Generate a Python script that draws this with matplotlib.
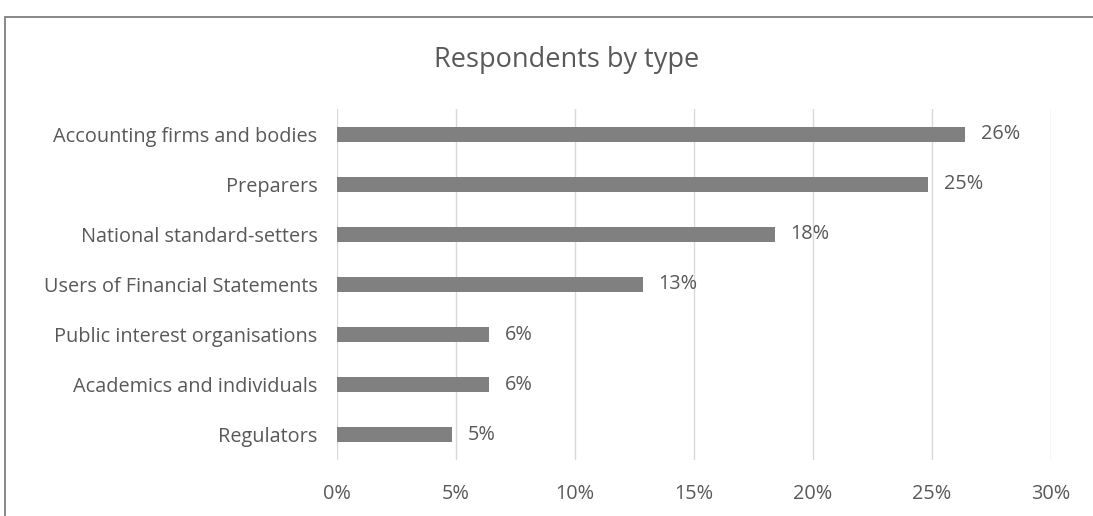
import matplotlib.pyplot as plt
from matplotlib.patches import Rectangle
from matplotlib.ticker import FuncFormatter

categories = ['Accounting firms and bodies', 'Preparers', 'National standard-setters',
              'Users of Financial Statements', 'Public interest organisations',
              'Academics and individuals', 'Regulators']
values = [26.4, 24.85, 18.4, 12.85, 6.4, 6.4, 4.85]
labels = ['26%', '25%', '18%', '13%', '6%', '6%', '5%']
xticks = [0, 5, 10, 15, 20, 25, 30]

plt.rcParams['font.family'] = ['Open Sans', 'DejaVu Sans']
txt = '#595959'
fs = 14.3

fig = plt.figure(figsize=(10.93, 5.16), dpi=100)
ax = fig.add_axes([0.3083, 0.1085, 0.6533, 0.6803])

y = list(range(len(categories)))
ax.barh(y, values, height=0.3, color='#808080', zorder=3)
for yi, v, lab in zip(y, values, labels):
    ax.text(v + 0.65, yi, lab, va='center', ha='left', fontsize=fs, color=txt)

ax.set_yticks(y)
ax.set_yticklabels(categories)
ax.set_ylim(len(categories) - 0.5, -0.5)
ax.set_xlim(0, 30)
ax.set_xticks(xticks)
ax.xaxis.set_major_formatter(FuncFormatter(lambda v, p: f'{v:.0f}%'))
ax.tick_params(axis='both', length=0, labelsize=fs, labelcolor=txt)
ax.tick_params(axis='y', pad=14)
ax.tick_params(axis='x', pad=17)
ax.grid(axis='x', color='#d9d9d9', linewidth=1, zorder=0)
for s in ax.spines.values():
    s.set_visible(False)

fig.text(0.518, 0.883, 'Respondents by type', ha='center', va='center',
         fontsize=19.5, color=txt)

fig.patches.append(Rectangle((5 / 1093, -0.1), 1.2, 1 - 17 / 516 + 0.1,
                             transform=fig.transFigure, fill=False,
                             edgecolor='#7f7f7f', linewidth=1.3))

fig.savefig('out.png', dpi=100)
